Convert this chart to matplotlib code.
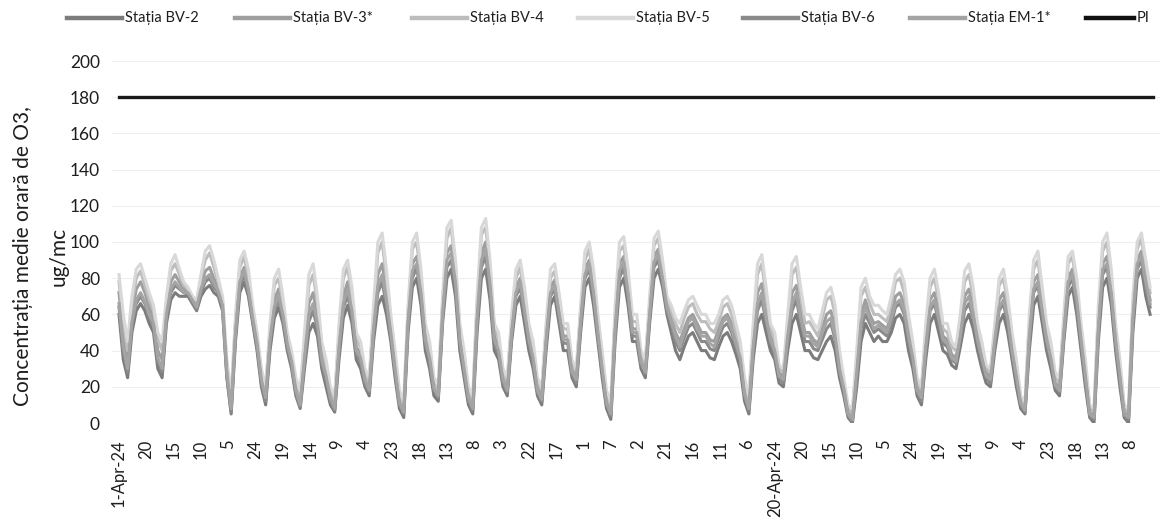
import numpy as np
import matplotlib
matplotlib.use("Agg")
import matplotlib.pyplot as plt
from matplotlib.lines import Line2D

plt.rcParams['font.family'] = ['Lato', 'DejaVu Sans']

# ---------------- data ----------------
N_DAYS = 30
SAMPLE_HOURS = [1, 4, 7, 10, 13, 16, 19, 22]   # hours of day sampled (1..24)

bv2 = [
    [60, 35, 25, 50, 62, 66, 62, 55], [50, 30, 25, 55, 68, 72, 70, 70],
    [70, 66, 62, 70, 74, 76, 72, 70], [62, 25, 5, 45, 72, 78, 70, 55],
    [40, 20, 10, 40, 58, 64, 55, 40], [30, 15, 8, 30, 50, 55, 48, 30],
    [20, 10, 6, 35, 58, 65, 55, 35], [30, 20, 15, 45, 65, 70, 60, 45],
    [25, 8, 3, 50, 75, 80, 65, 40], [30, 15, 12, 55, 80, 85, 70, 40],
    [25, 10, 5, 50, 80, 85, 68, 40], [35, 20, 15, 45, 65, 70, 55, 40],
    [30, 15, 10, 40, 65, 70, 55, 40], [40, 25, 20, 50, 75, 80, 65, 45],
    [25, 8, 2, 45, 75, 80, 65, 45], [45, 30, 25, 55, 80, 85, 75, 60],
    [50, 40, 35, 42, 48, 50, 45, 40], [40, 36, 35, 42, 48, 50, 45, 38],
    [30, 12, 5, 35, 55, 60, 50, 40], [35, 22, 20, 40, 55, 60, 50, 40],
    [40, 36, 35, 40, 45, 48, 40, 25], [15, 3, 0, 20, 45, 55, 50, 45],
    [48, 45, 45, 50, 58, 60, 55, 40], [30, 15, 10, 35, 55, 60, 50, 40],
    [38, 32, 30, 42, 55, 60, 52, 40], [30, 22, 20, 40, 55, 60, 50, 35],
    [20, 8, 5, 40, 65, 70, 55, 40], [30, 18, 15, 45, 70, 75, 60, 40],
    [20, 3, 0, 45, 75, 80, 65, 40], [20, 3, 0, 50, 80, 85, 70, 60],
]
bv3 = [
    [72, 48, 35, 60, 74, 78, 72, 64], [58, 40, 35, 62, 78, 82, 78, 74],
    [72, 68, 65, 76, 84, 86, 80, 74], [66, 30, 10, 52, 80, 86, 76, 60],
    [45, 25, 15, 48, 68, 74, 62, 45], [35, 20, 12, 40, 66, 72, 58, 38],
    [28, 15, 10, 45, 70, 78, 65, 42], [38, 25, 20, 55, 82, 88, 72, 52],
    [32, 12, 8, 58, 88, 92, 75, 48], [38, 20, 16, 62, 94, 98, 80, 48],
    [32, 15, 10, 60, 94, 100, 80, 48], [42, 25, 20, 52, 75, 80, 65, 48],
    [38, 20, 15, 48, 75, 79, 63, 48], [48, 30, 25, 58, 85, 90, 75, 52],
    [32, 12, 6, 55, 88, 92, 75, 52], [52, 35, 30, 62, 92, 96, 82, 65],
    [58, 50, 45, 52, 58, 60, 55, 50], [50, 46, 45, 52, 58, 60, 55, 46],
    [38, 18, 10, 45, 72, 77, 62, 48], [42, 28, 25, 50, 72, 76, 62, 50],
    [50, 46, 44, 52, 60, 62, 52, 32], [20, 6, 3, 30, 60, 68, 60, 55],
    [56, 54, 52, 60, 70, 72, 66, 50], [38, 20, 15, 45, 68, 72, 62, 48],
    [46, 38, 36, 50, 70, 74, 64, 48], [38, 28, 25, 48, 68, 72, 60, 42],
    [28, 12, 8, 50, 78, 82, 65, 48], [38, 22, 20, 52, 80, 85, 70, 48],
    [28, 6, 4, 55, 88, 92, 75, 48], [28, 6, 4, 60, 90, 95, 80, 68],
]
bv4 = [
    [78, 55, 40, 66, 80, 84, 76, 68], [62, 46, 40, 66, 84, 88, 82, 76],
    [74, 70, 66, 80, 90, 94, 86, 78], [68, 32, 12, 56, 86, 92, 80, 62],
    [48, 28, 18, 52, 76, 80, 66, 48], [38, 22, 15, 46, 76, 82, 66, 42],
    [32, 18, 12, 50, 80, 86, 70, 46], [42, 28, 22, 60, 94, 100, 80, 56],
    [36, 15, 10, 62, 96, 100, 80, 52], [42, 22, 18, 66, 102, 108, 86, 52],
    [36, 18, 12, 66, 104, 108, 86, 52], [46, 28, 22, 56, 80, 86, 70, 52],
    [42, 22, 18, 52, 80, 84, 68, 52], [52, 32, 28, 62, 90, 96, 80, 56],
    [36, 15, 8, 60, 95, 98, 80, 56], [56, 38, 32, 66, 98, 102, 86, 68],
    [62, 55, 50, 58, 64, 66, 60, 56], [56, 52, 50, 56, 64, 66, 60, 50],
    [42, 20, 12, 50, 82, 88, 70, 52], [46, 30, 28, 55, 82, 86, 70, 55],
    [56, 52, 48, 58, 68, 70, 60, 36], [22, 8, 5, 36, 70, 75, 66, 60],
    [60, 58, 56, 66, 78, 80, 72, 55], [42, 22, 18, 50, 75, 80, 68, 52],
    [50, 42, 40, 55, 78, 82, 70, 52], [42, 30, 28, 52, 76, 80, 66, 46],
    [32, 14, 10, 55, 85, 90, 70, 52], [42, 25, 22, 56, 88, 92, 75, 52],
    [32, 8, 6, 60, 95, 100, 80, 52], [32, 8, 6, 65, 96, 102, 85, 72],
]
bv5 = [
    [82, 60, 45, 70, 85, 88, 80, 72], [65, 50, 45, 70, 88, 93, 85, 78],
    [75, 70, 68, 82, 95, 98, 90, 80], [70, 35, 15, 60, 90, 95, 85, 65],
    [50, 30, 20, 55, 80, 85, 70, 50], [40, 25, 18, 50, 82, 88, 70, 45],
    [35, 20, 15, 55, 85, 90, 75, 50], [45, 30, 25, 65, 100, 105, 85, 60],
    [40, 18, 12, 65, 100, 105, 85, 55], [45, 25, 22, 70, 108, 112, 90, 55],
    [40, 20, 15, 70, 108, 113, 90, 55], [50, 30, 25, 60, 85, 90, 75, 55],
    [45, 25, 20, 55, 85, 88, 72, 55], [55, 35, 30, 65, 95, 100, 85, 60],
    [40, 18, 12, 65, 100, 103, 85, 60], [60, 40, 35, 70, 102, 106, 90, 70],
    [65, 58, 55, 62, 68, 70, 65, 60], [60, 55, 55, 60, 68, 70, 65, 55],
    [45, 25, 15, 55, 88, 93, 75, 55], [50, 32, 30, 60, 88, 92, 75, 60],
    [60, 55, 52, 62, 72, 75, 65, 40], [25, 10, 8, 40, 75, 80, 70, 65],
    [65, 62, 60, 70, 82, 85, 78, 60], [45, 25, 20, 55, 80, 85, 72, 55],
    [55, 45, 42, 60, 84, 88, 75, 55], [45, 32, 30, 55, 80, 85, 70, 50],
    [35, 15, 12, 60, 90, 95, 75, 55], [45, 28, 25, 60, 92, 95, 80, 55],
    [35, 10, 8, 65, 100, 105, 85, 55], [35, 10, 8, 70, 100, 105, 90, 75],
]
bv6 = [
    [64, 40, 28, 54, 66, 70, 66, 58], [54, 34, 28, 58, 72, 76, 74, 72],
    [71, 67, 63, 72, 78, 80, 75, 72], [64, 26, 6, 48, 76, 82, 72, 56],
    [42, 22, 12, 44, 62, 68, 58, 42], [32, 16, 9, 34, 56, 62, 52, 33],
    [24, 12, 7, 40, 64, 70, 60, 38], [34, 22, 17, 50, 72, 78, 65, 48],
    [28, 10, 5, 54, 80, 86, 70, 44], [34, 18, 14, 58, 86, 90, 75, 44],
    [28, 12, 7, 55, 86, 92, 74, 44], [38, 22, 17, 48, 70, 75, 60, 44],
    [34, 17, 12, 44, 70, 74, 59, 44], [44, 27, 22, 54, 80, 85, 70, 48],
    [28, 10, 4, 50, 80, 86, 70, 48], [48, 32, 27, 58, 86, 90, 78, 62],
    [54, 45, 40, 47, 53, 55, 50, 45], [45, 41, 40, 47, 53, 55, 50, 42],
    [34, 15, 7, 40, 62, 68, 56, 44], [38, 25, 22, 45, 62, 68, 56, 45],
    [45, 41, 40, 46, 52, 55, 46, 28], [18, 4, 1, 25, 52, 60, 55, 50],
    [52, 50, 48, 55, 64, 66, 60, 45], [34, 17, 12, 40, 62, 66, 56, 44],
    [42, 35, 33, 46, 62, 66, 58, 44], [34, 25, 22, 44, 62, 66, 55, 38],
    [24, 10, 6, 45, 72, 76, 60, 44], [34, 20, 17, 48, 75, 80, 65, 44],
    [24, 4, 2, 50, 82, 86, 70, 44], [24, 4, 2, 55, 85, 90, 75, 64],
]
em1 = [
    [66, 42, 30, 56, 68, 72, 67, 60], [55, 36, 30, 60, 74, 78, 75, 72],
    [72, 68, 64, 74, 80, 82, 77, 73], [65, 28, 8, 50, 78, 84, 74, 58],
    [44, 24, 14, 46, 64, 70, 60, 44], [34, 18, 10, 36, 60, 66, 55, 35],
    [26, 14, 8, 42, 66, 74, 62, 40], [36, 24, 18, 52, 76, 82, 68, 50],
    [30, 11, 6, 56, 84, 88, 72, 46], [36, 19, 15, 60, 90, 94, 78, 46],
    [30, 14, 8, 58, 90, 96, 77, 46], [40, 24, 18, 50, 72, 78, 62, 46],
    [36, 18, 13, 46, 72, 76, 61, 46], [46, 28, 24, 56, 82, 88, 72, 50],
    [30, 11, 5, 52, 84, 89, 72, 50], [50, 34, 28, 60, 89, 93, 80, 64],
    [56, 48, 42, 50, 56, 58, 52, 48], [48, 44, 42, 50, 56, 58, 52, 44],
    [36, 16, 8, 42, 66, 72, 58, 46], [40, 26, 24, 48, 66, 72, 58, 48],
    [48, 44, 42, 50, 56, 58, 48, 30], [19, 5, 2, 28, 56, 64, 58, 52],
    [54, 52, 50, 58, 66, 68, 62, 48], [36, 18, 14, 42, 64, 68, 58, 46],
    [44, 36, 34, 48, 66, 70, 60, 46], [36, 26, 24, 46, 64, 68, 58, 40],
    [26, 11, 7, 48, 74, 78, 62, 46], [36, 21, 18, 50, 78, 82, 68, 46],
    [26, 5, 3, 52, 85, 88, 72, 46], [26, 5, 3, 58, 88, 92, 78, 66],
]
PI_VALUE = 180

series_names = ["Stația BV-2", "Stația BV-3*", "Stația BV-4", "Stația BV-5",
                "Stația BV-6", "Stația EM-1*"]
series_data = [bv2, bv3, bv4, bv5, bv6, em1]
series_colors = ["#7c7c7c", "#9e9e9e", "#bdbdbd", "#d8d8d8", "#8a8a8a", "#a4a4a4"]

TICK_STEP = 19
tick_labels = ["1-Apr-24", "20", "15", "10", "5", "24", "19", "14", "9", "4",
               "23", "18", "13", "8", "3", "22", "17", "1", "7", "2", "21",
               "16", "11", "6", "20-Apr-24", "20", "15", "10", "5", "24",
               "19", "14", "9", "4", "23", "18", "13", "8"]

y_ticks = [0, 20, 40, 60, 80, 100, 120, 140, 160, 180, 200]
ylabel = "Concentrația medie orară de O3,\nug/mc"

# ---------------- figure ----------------
W, H = 1160, 531
fig = plt.figure(figsize=(W / 100, H / 100), dpi=100)

XMIN, XMAX = -5, 730
ax_left_px, ax_right_px = 111.8, 1168.8
ax_bot_px, ax_top_px = 423, 61
ax = fig.add_axes([ax_left_px / W, (H - ax_bot_px) / H,
                   (ax_right_px - ax_left_px) / W, (ax_bot_px - ax_top_px) / H])

hours_offset = np.array(SAMPLE_HOURS) - 1
for name, data, col in zip(series_names, series_data, series_colors):
    arr = np.array(data, dtype=float)
    xs = (np.arange(N_DAYS)[:, None] * 24 + hours_offset[None, :]).ravel()
    ax.plot(xs, arr.ravel(), color=col, lw=2.2, solid_joinstyle='round', zorder=2)

n_hours = N_DAYS * 24
ax.plot([0, n_hours - 1], [PI_VALUE, PI_VALUE], color="#1a1a1a", lw=2.4, zorder=3)

ax.set_xlim(XMIN, XMAX)
ax.set_ylim(0, 200)
ax.set_yticks(y_ticks)
ax.set_yticklabels([str(v) for v in y_ticks], fontsize=12.5, color="#1e1e1e")
ax.set_xticks([i * TICK_STEP for i in range(len(tick_labels))])
ax.set_xticklabels(tick_labels, rotation=90, fontsize=12, color="#1e1e1e",
                   ha='center', va='top')
ax.tick_params(axis='both', length=0)
ax.tick_params(axis='y', pad=8.5)
ax.tick_params(axis='x', pad=12)
ax.grid(axis='y', color="#efefef", lw=0.8, zorder=0)
for s in ax.spines.values():
    s.set_visible(False)
ax.set_facecolor('white')

fig.text(41 / W, 1 - 256 / H, ylabel, rotation=90, ha='center', va='center',
         multialignment='center', fontsize=15, color="#1e1e1e",
         linespacing=2.0)

# ---------------- legend ----------------
leg_names = series_names + ["PI"]
leg_colors = series_colors + ["#111111"]
leg_lw = [3.2] * 6 + [3.2]
leg_starts = [67, 235, 412, 578, 743, 910, 1086]
leg_lens = [55, 55, 55, 55, 55, 55, 48]
y_leg = 1 - 18 / H
for name, col, lw, x0, ln in zip(leg_names, leg_colors, leg_lw, leg_starts, leg_lens):
    fig.add_artist(Line2D([x0 / W, (x0 + ln) / W], [y_leg, y_leg],
                          transform=fig.transFigure, color=col, lw=lw))
    fig.text((x0 + ln + 3) / W, y_leg, name, ha='left', va='center',
             fontsize=10.5, color="#1e1e1e")

fig.savefig("out.png", dpi=100, facecolor='white')
